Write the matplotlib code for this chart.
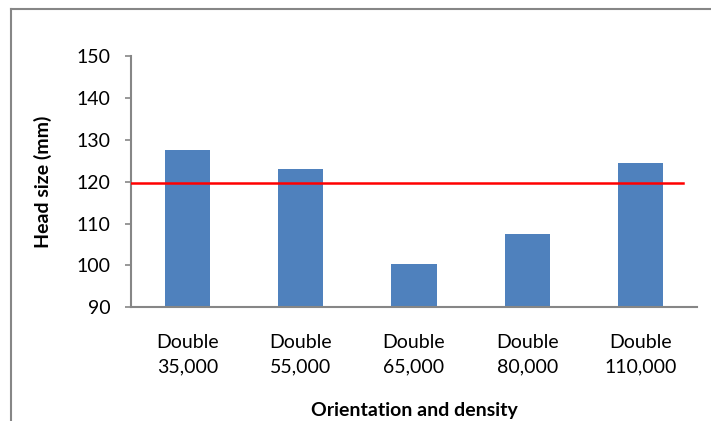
import matplotlib.pyplot as plt
from matplotlib.lines import Line2D

categories = ["Double\n35,000", "Double\n55,000", "Double\n65,000", "Double\n80,000", "Double\n110,000"]
head_size = [127.6, 123.0, 100.4, 107.5, 124.5]
reference_size = 119.7

plt.rcParams['font.family'] = ['Lato', 'DejaVu Sans']
grey = '#868686'

fig = plt.figure(figsize=(7.11, 4.21), dpi=100)
ax = fig.add_axes([0.1842, 0.270, 0.7961, 0.597])

x = range(len(categories))
ax.bar(x, head_size, width=0.4, color='#4F81BD', zorder=2)
ax.axhline(reference_size, xmin=0, xmax=0.975, color='red', linewidth=1.8, zorder=3)

ax.set_xlim(-0.5, len(categories) - 0.5)
ax.set_ylim(90, 150)
ax.set_yticks(range(90, 151, 10))
ax.set_xticks(list(x))
ax.set_xticklabels(categories, fontsize=14, linespacing=1.55)
ax.tick_params(axis='y', labelsize=14, length=4.5, width=1.2, color=grey, pad=10)
ax.tick_params(axis='x', length=0, pad=19)

for side in ['top', 'right']:
    ax.spines[side].set_visible(False)
for side in ['left', 'bottom']:
    ax.spines[side].set_color(grey)
    ax.spines[side].set_linewidth(1.5)

ax.set_ylabel("Head size (mm)", fontsize=14, fontweight='bold', labelpad=18)
ax.set_xlabel("Orientation and density", fontsize=14, fontweight='bold', labelpad=19)

# chart area border (left and top only visible)
fig.add_artist(Line2D([11 / 711, 11 / 711], [0, 1 - 9 / 421], color=grey, linewidth=1.5))
fig.add_artist(Line2D([11 / 711, 1], [1 - 9 / 421, 1 - 9 / 421], color=grey, linewidth=1.5))

fig.savefig("out.png", dpi=100)
